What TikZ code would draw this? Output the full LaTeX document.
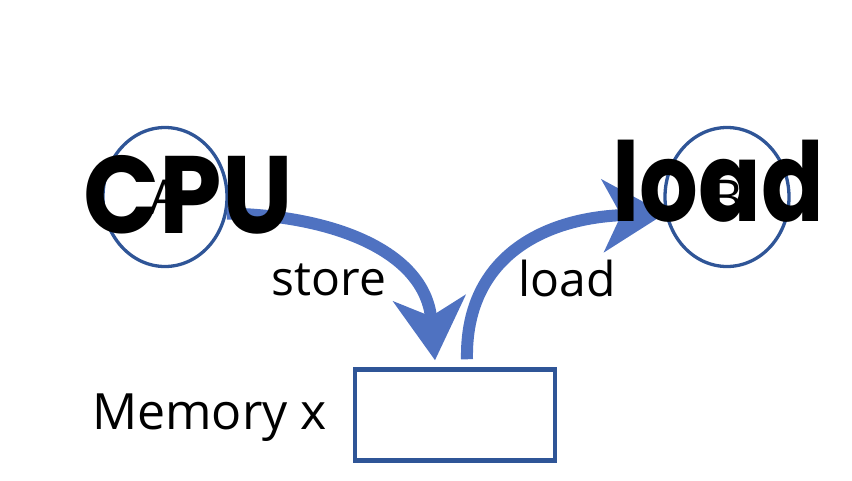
\documentclass[tikz,border=0pt]{standalone}
\usepackage{fontspec}
\setmainfont{Open Sans}
\newfontfamily\bigfont{Poppins}
\usetikzlibrary{arrows.meta,shapes.geometric,calc}
\definecolor{circblue}{HTML}{2F5597}
\definecolor{arrblue}{HTML}{4F72C1}
\begin{document}
\begin{tikzpicture}[x=1pt,y=-1pt,
  cpu/.style={ellipse, draw=circblue, line width=3.3pt, minimum width=124pt, minimum height=139pt, inner sep=0pt, font=\fontsize{48pt}{52pt}\selectfont},
  membox/.style={rectangle, draw=circblue, line width=4.5pt, minimum width=200pt, minimum height=91pt, inner sep=0pt},
  flow/.style={draw=arrblue, line width=12pt, -{Stealth[length=62pt, width=72pt, inset=18pt]}},
  lbl/.style={font=\fontsize{48pt}{52pt}\selectfont, inner sep=0pt},
  big/.style={font=\bigfont\bfseries\fontsize{110pt}{120pt}\selectfont, inner sep=0pt, text=black}]
\useasboundingbox (0,0) rectangle (852,480);
\node[cpu] (A) at (165,197) {\raisebox{-17pt}{A}};
\node[cpu] (B) at (727,197) {\raisebox{-17pt}{B}};
\node[membox] (mem) at (455,415) {};
\coordinate (memin) at ($(mem.north)+(-20,-7)$);
\coordinate (memout) at ($(mem.north)+(12,-8)$);
\draw[flow] (A.-15) .. controls (330,215) and (425,250) .. (memin);
\draw[flow] (memout) .. controls (465,260) and (540,218) .. (B.195);
\node[lbl] (st) at (329,280) {store};
\node[lbl] (ld) at (567,278) {load};
\node[lbl, anchor=east, font=\fontsize{50pt}{54pt}\selectfont] (mx) at (327,418) {Memory x};
\node[big] (cpuT) at (188,195) {\scalebox{0.91}[1]{CPU}};
\node[big] (loadT) at (718,181) {\scalebox{0.84}[1]{load}};
\end{tikzpicture}
\end{document}
